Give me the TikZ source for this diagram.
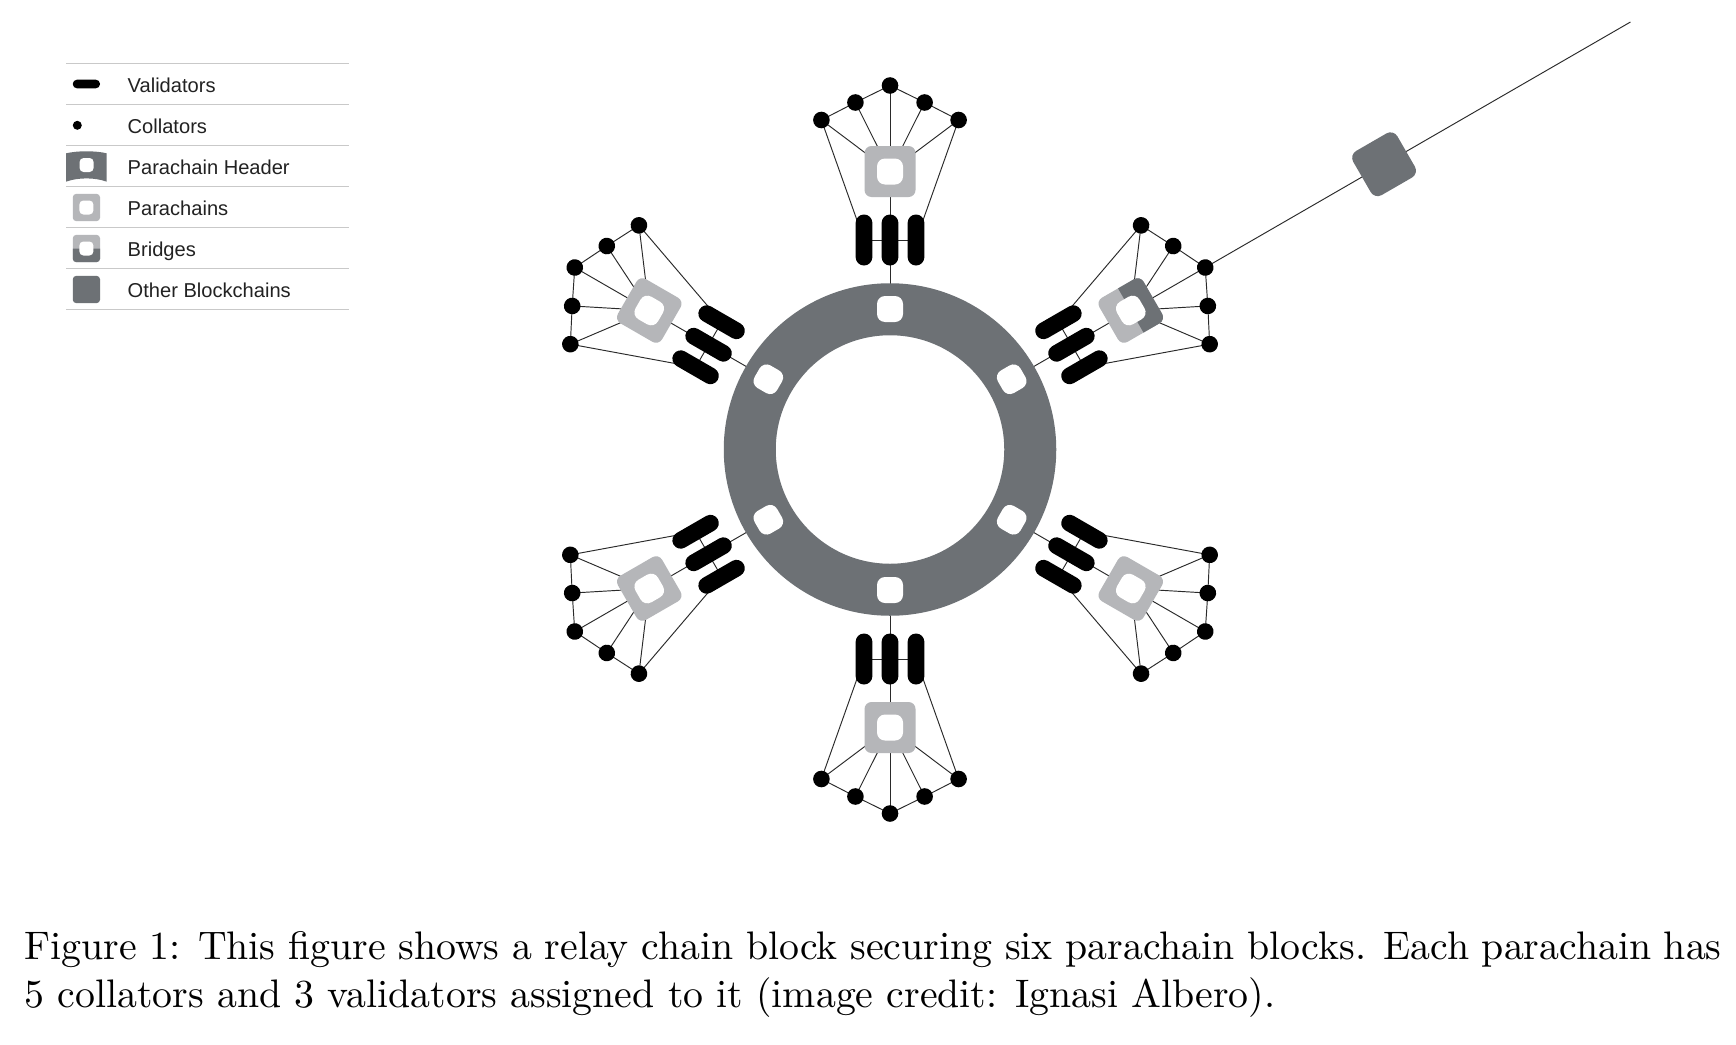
\documentclass[tikz,border=0pt]{standalone}
\usepackage{fontspec}
\newfontfamily\legendfont{Liberation Sans}
\usetikzlibrary{backgrounds,calc}
\definecolor{ringgray}{HTML}{6D7175}
\definecolor{paragray}{HTML}{B5B6B9}
\definecolor{wire}{HTML}{2A2A2A}
\definecolor{rulegray}{HTML}{C9C9C9}
\definecolor{legendtext}{HTML}{222222}
\tikzset{
  x=1pt,y=1pt,
  wireline/.style={draw=wire,line width=0.95pt},
  ruleline/.style={draw=rulegray,line width=1pt},
  collator/.style={circle,fill=black,inner sep=0pt,minimum size=16.6pt},
  validator/.style={rectangle,fill=black,inner sep=0pt,minimum width=16.7pt,minimum height=51pt,rounded corners=8.3pt},
  parabox/.style={rectangle,fill=paragray,inner sep=0pt,minimum size=51pt,rounded corners=7pt},
  bridgebox/.style={parabox,path picture={\fill[ringgray] (-40,0) rectangle (40,40);}},
  hole/.style={rectangle,fill=white,inner sep=0pt,minimum size=26pt,rounded corners=8pt},
  otherbox/.style={rectangle,fill=ringgray,inner sep=0pt,minimum size=51pt,rounded corners=8pt},
  relayring/.style={circle,draw=ringgray,line width=52pt,inner sep=0pt,minimum size=280.5pt},
  legendlabel/.style={anchor=base west,inner sep=0pt,text=legendtext,font=\legendfont\fontsize{20.1}{24}\selectfont},
  lgvalidator/.style={rectangle,fill=black,inner sep=0pt,minimum width=27.3pt,minimum height=8.7pt,rounded corners=4.3pt},
  lgcollator/.style={circle,fill=black,inner sep=0pt,minimum size=9pt},
  lgpara/.style={rectangle,fill=paragray,inner sep=0pt,minimum size=27.3pt,rounded corners=3.5pt},
  lgbridge/.style={lgpara,path picture={\fill[ringgray] (-20,0) rectangle (20,-20);}},
  lgother/.style={rectangle,fill=ringgray,inner sep=0pt,minimum size=27.3pt,rounded corners=3.5pt},
  lghole/.style={rectangle,fill=white,inner sep=0pt,minimum size=14pt,rounded corners=4pt},
  captiontext/.style={anchor=base west,inner sep=0pt,scale=3.98,font=\fontsize{10}{12}\selectfont},
}
\begin{document}
\begin{tikzpicture}
\useasboundingbox (0,0) rectangle (1736,-1044);
\begin{scope}[on background layer]
\fill[white] (0,0) rectangle (1736,-1044);
\end{scope}

% relay chain
\begin{scope}[shift={(890,-449.5)}]
\node (relay) [relayring] at (0,0) {};
\foreach \n/\a/\sty in {1/90/parabox,2/30/bridgebox,3/-30/parabox,4/-90/parabox,5/-150/parabox,6/150/parabox}{
  \begin{scope}[rotate=\a-90,transform shape]
    \node (slot\n) [hole] at (0,140.5) {};
    \node (va\n) [validator] at (-26,209.5) {};
    \node (vb\n) [validator] at (0,209.5) {};
    \node (vc\n) [validator] at (26,209.5) {};
    \node (par\n) [\sty] at (0,278) {};
    \node (parh\n) [hole] at (0,278) {};
    \node (ca\n) [collator] at (-68.6,329.5) {};
    \node (cb\n) [collator] at (-34.6,347) {};
    \node (cc\n) [collator] at (0,364) {};
    \node (cd\n) [collator] at (34.6,347) {};
    \node (ce\n) [collator] at (68.6,329.5) {};
  \end{scope}
  \begin{scope}[on background layer]
    \draw[wireline] (slot\n.center) -- (vb\n.center) -- (par\n.center);
    \draw[wireline] (va\n.center) -- (vc\n.center);
    \draw[wireline] (ca\n.center) -- (cb\n.center) -- (cc\n.center) -- (cd\n.center) -- (ce\n.center);
    \draw[wireline] (par\n.center) -- (ca\n.center);
    \draw[wireline] (par\n.center) -- (cb\n.center);
    \draw[wireline] (par\n.center) -- (cc\n.center);
    \draw[wireline] (par\n.center) -- (cd\n.center);
    \draw[wireline] (par\n.center) -- (ce\n.center);
    \draw[wireline] (ca\n.center) -- (va\n.center);
    \draw[wireline] (ce\n.center) -- (vc\n.center);
  \end{scope}
}
\node (other) [otherbox,rotate=-60] at (30:570.5) {};
\coordinate (farend) at (30:855);
\begin{scope}[on background layer]
  \draw[wireline] (cc2.center) -- (other.center) -- (farend);
\end{scope}
\end{scope}

% legend
\foreach \y in {63.3,104.3,145.3,186.3,227.3,268.3,309.3}
  \draw[ruleline] (66,-\y) -- (349,-\y);
\node (lgv) [lgvalidator] at (86.4,-84) {};
\node (lgc) [lgcollator] at (77.3,-125.3) {};
\fill[ringgray] (66,-153.3) .. controls (78,-150.6) and (95,-150.6) .. (106.7,-153.3)
   -- (106.7,-181.7) .. controls (95,-177.3) and (78,-177.3) .. (66,-181.7) -- cycle;
\node (lgph) [lghole] at (86.6,-165) {};
\node (lgp) [lgpara] at (86.4,-207.5) {};
\node (lgph2) [lghole] at (86.4,-207.5) {};
\node (lgb) [lgbridge] at (86.4,-248.5) {};
\node (lgbh) [lghole] at (86.4,-248.5) {};
\node (lgo) [lgother] at (86.4,-289.5) {};
\node (t1) [legendlabel] at (127.5,-92.1) {Validators};
\node (t2) [legendlabel] at (127.5,-133.1) {Collators};
\node (t3) [legendlabel] at (127.5,-174.1) {Parachain Header};
\node (t4) [legendlabel] at (127.5,-215.1) {Parachains};
\node (t5) [legendlabel] at (127.5,-256.1) {Bridges};
\node (t6) [legendlabel] at (127.5,-297.1) {Other Blockchains};

% caption
\node (cap1) [captiontext] at (23.8,-959.5) {\hbox to 426.4pt{Figure 1: This figure shows a relay chain block securing six parachain blocks. Each parachain has}};
\node (cap2) [captiontext] at (23.8,-1007.5) {5 collators and 3 validators assigned to it (image credit: Ignasi Albero).};
\end{tikzpicture}
\end{document}
